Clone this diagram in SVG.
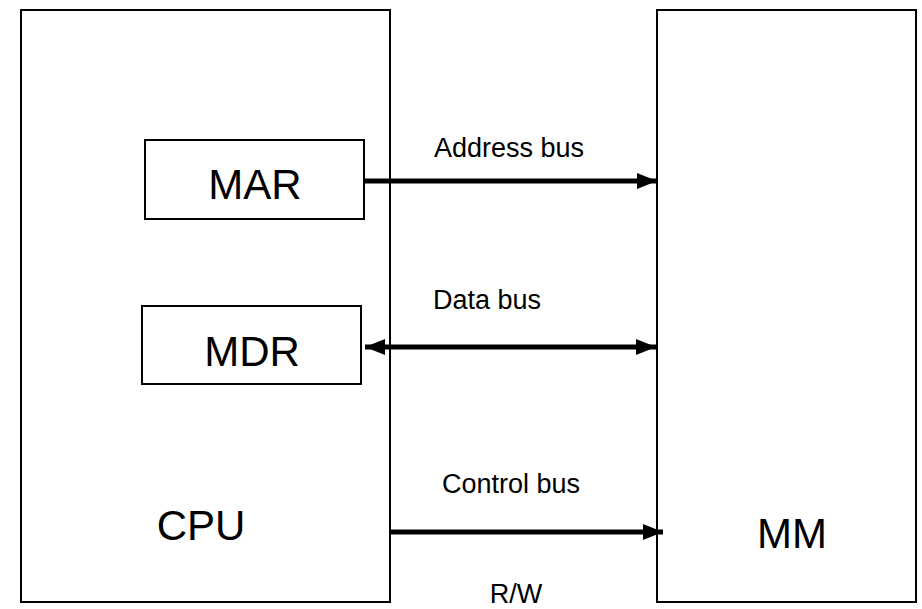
<svg xmlns="http://www.w3.org/2000/svg" width="922" height="609" viewBox="0 0 922 609">
<style>
.box{fill:#fff;stroke:#000;stroke-width:2}
.big{font-family:"Liberation Sans",Arial,sans-serif;font-size:42px;fill:#000}
.lbl{font-family:"Liberation Sans",Arial,sans-serif;font-size:27px;fill:#000}
.bus{stroke:#000;stroke-width:5;fill:none}
</style>
<defs>
<marker id="ah" markerWidth="4" markerHeight="3.2" refX="4" refY="1.6" orient="auto" markerUnits="strokeWidth">
<path d="M0,0 L4,1.6 L0,3.2 Z" fill="#000"/>
</marker>
<marker id="ahs" markerWidth="4" markerHeight="3.2" refX="4" refY="1.6" orient="auto-start-reverse" markerUnits="strokeWidth">
<path d="M0,0 L4,1.6 L0,3.2 Z" fill="#000"/>
</marker>
</defs>
<g id="cpu">
<rect class="box" x="21" y="10" width="369" height="592"/>
<text class="big" x="201" y="540" text-anchor="middle">CPU</text>
</g>
<g id="mm">
<rect class="box" x="657" y="10" width="259" height="592"/>
<text class="big" x="792" y="548" text-anchor="middle">MM</text>
</g>
<g id="mar">
<rect class="box" x="145" y="140" width="219" height="79"/>
<text class="big" x="255" y="199" text-anchor="middle">MAR</text>
</g>
<g id="mdr">
<rect class="box" x="142" y="306" width="219" height="78"/>
<text class="big" x="252" y="366" text-anchor="middle">MDR</text>
</g>
<g id="connectors">
<line class="bus" x1="364" y1="181" x2="657" y2="181" marker-end="url(#ah)"/>
<line class="bus" x1="365" y1="347" x2="656" y2="347" marker-start="url(#ahs)" marker-end="url(#ahs)"/>
<line class="bus" x1="391" y1="532" x2="663" y2="532" marker-end="url(#ah)"/>
</g>
<g id="labels">
<text class="lbl" x="509" y="157" text-anchor="middle">Address bus</text>
<text class="lbl" x="487" y="309" text-anchor="middle">Data bus</text>
<text class="lbl" x="511" y="493" text-anchor="middle">Control bus</text>
<text class="lbl" x="516" y="603" text-anchor="middle">R/W</text>
</g>
</svg>
